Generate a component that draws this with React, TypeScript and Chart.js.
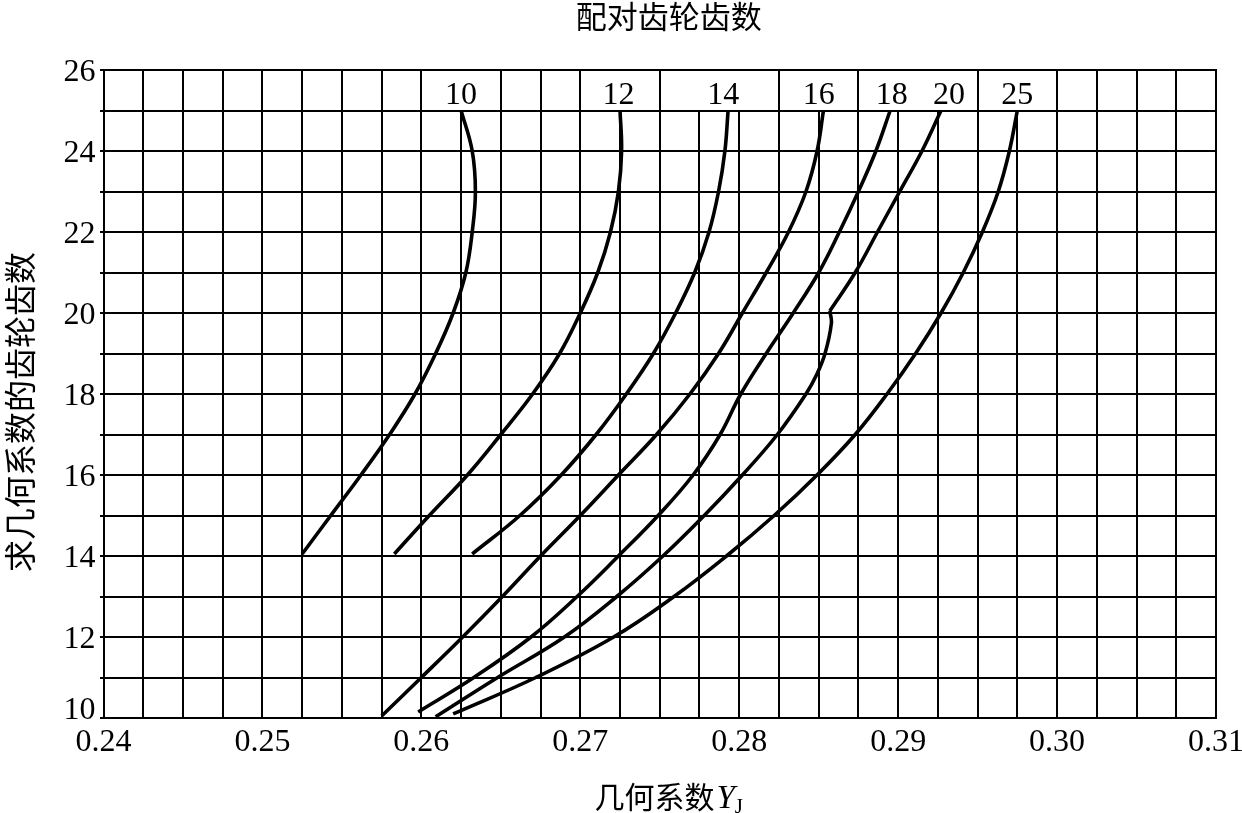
import React, { useEffect, useRef } from "react";
import { Chart, registerables } from "chart.js";

Chart.register(...registerables);

// ---- axes ----
const X_MIN = 0.24;
const X_MAX = 0.31;
const X_MINOR = 0.0025;
const X_TICKS = [0.24, 0.25, 0.26, 0.27, 0.28, 0.29, 0.3, 0.31];
const Y_MIN = 10;
const Y_MAX = 26;
const Y_TICKS = [10, 12, 14, 16, 18, 20, 22, 24, 26];
// minor vertical lines left open in the label row (between 25 and 26)
const TOP_ROW_OPEN = [0.2625, 0.2725, 0.2775, 0.28, 0.285, 0.29, 0.2925, 0.2975];

// ---- titles ----
const TITLE_TOP = "配对齿轮齿数";
const TITLE_Y = "求几何系数的齿轮齿数";
const TITLE_X_MAIN = "几何系数";
const TITLE_X_SYM = "Y";
const TITLE_X_SUB = "J";

// ---- curve labels (mating gear tooth count) and their x anchors ----
const CURVE_LABELS = ["10", "12", "14", "16", "18", "20", "25"];
const LABEL_X = [0.2625, 0.2724, 0.279, 0.285, 0.2896, 0.2932, 0.2975];

// ---- curves ----
const z10_y = [14.05, 15, 16, 17, 18, 19, 20, 21, 22, 23, 24, 25];
const z10_x = [0.2525, 0.2543, 0.2562, 0.258, 0.2596, 0.2609, 0.262, 0.2628, 0.2632, 0.2634, 0.2632, 0.2625];

const z12_y = [14.05, 15, 16, 17, 18, 19, 20, 21, 22, 23, 24, 25];
const z12_x = [0.2583, 0.2605, 0.2629, 0.265, 0.267, 0.2687, 0.27, 0.2711, 0.2719, 0.2724, 0.2726, 0.2725];

const z14_y = [14.05, 15, 16, 17, 18, 19, 20, 21, 22, 23, 24, 25];
const z14_x = [0.2632, 0.2662, 0.2688, 0.271, 0.2729, 0.2746, 0.276, 0.2772, 0.2781, 0.2787, 0.2791, 0.2793];

const z16_y = [10.05, 11, 12, 13, 14, 15, 16, 17, 18, 19, 20, 21, 22, 23, 24, 25];
const z16_x = [0.2575, 0.26, 0.2626, 0.2651, 0.2675, 0.27, 0.2724, 0.2748, 0.2769, 0.2787, 0.2802, 0.2817, 0.2831, 0.2842, 0.2849, 0.2853];

const z18_y = [10.15, 11, 12, 13, 14, 15, 16, 17, 18, 19, 20, 21, 22, 23, 24, 25];
const z18_x = [0.2598, 0.2633, 0.2669, 0.2698, 0.2724, 0.2749, 0.2771, 0.2788, 0.2801, 0.2817, 0.2834, 0.285, 0.2863, 0.2875, 0.2886, 0.2895];

// curve 20 has a sharp break at y = 20
const z20_low_y = [10.03, 11, 12, 13, 14, 15, 16, 17, 18, 18.5, 19, 19.75, 20.05];
const z20_low_x = [0.2609, 0.2648, 0.269, 0.2723, 0.2752, 0.2778, 0.2802, 0.2824, 0.2842, 0.2849, 0.2854, 0.2858, 0.2857];
const z20_up_y = [20.05, 21, 22, 23, 24, 25];
const z20_up_x = [0.2857, 0.2873, 0.2887, 0.2901, 0.2915, 0.2927];

const z25_y = [10.1, 11, 12, 13, 14, 15, 16, 17, 18, 19, 20, 21, 22, 23, 24, 25];
const z25_x = [0.262, 0.2672, 0.2721, 0.2759, 0.2792, 0.2822, 0.2849, 0.2873, 0.2893, 0.2911, 0.2927, 0.2941, 0.2953, 0.2963, 0.297, 0.2975];

const SERIES = [
  { xs: z10_x, ys: z10_y },
  { xs: z12_x, ys: z12_y },
  { xs: z14_x, ys: z14_y },
  { xs: z16_x, ys: z16_y },
  { xs: z18_x, ys: z18_y },
  { xs: z20_low_x, ys: z20_low_y },
  { xs: z20_up_x, ys: z20_up_y },
  { xs: z25_x, ys: z25_y },
];

const SERIF = "'Liberation Serif', 'Times New Roman', serif";
const CJK = "'Noto Sans CJK SC', sans-serif";

const gridPlugin = {
  id: "handGrid",
  beforeDatasetsDraw(chart: any) {
    const { ctx, chartArea, scales } = chart;
    const xs = scales.x;
    const ys = scales.y;
    ctx.save();
    ctx.strokeStyle = "#000";
    ctx.lineWidth = 2;
    ctx.lineCap = "butt";
    const n = Math.round((X_MAX - X_MIN) / X_MINOR);
    const yTop = Math.round(chartArea.top);
    const yBot = Math.round(chartArea.bottom);
    const yRow = Math.round(ys.getPixelForValue(25));
    for (let i = 0; i <= n; i++) {
      const v = X_MIN + i * X_MINOR;
      const px = Math.round(xs.getPixelForValue(v));
      const open = TOP_ROW_OPEN.some((o) => Math.abs(o - v) < 1e-7);
      ctx.beginPath();
      ctx.moveTo(px, open ? yRow : yTop - 1);
      ctx.lineTo(px, yBot + 1);
      ctx.stroke();
    }
    for (let v = Y_MIN; v <= Y_MAX; v++) {
      const py = Math.round(ys.getPixelForValue(v));
      ctx.beginPath();
      ctx.moveTo(Math.round(chartArea.left) - 4, py);
      ctx.lineTo(Math.round(chartArea.right) + 1, py);
      ctx.stroke();
    }
    ctx.restore();
  },
  afterDatasetsDraw(chart: any) {
    const { ctx, scales, chartArea } = chart;
    ctx.save();
    ctx.fillStyle = "#000";
    ctx.font = `32px ${SERIF}`;
    ctx.textAlign = "center";
    ctx.textBaseline = "alphabetic";
    const base = scales.y.getPixelForValue(25) - 7;
    CURVE_LABELS.forEach((lab, i) => {
      ctx.fillText(lab, scales.x.getPixelForValue(LABEL_X[i]), base);
    });
    // x tick labels
    X_TICKS.forEach((v) => {
      ctx.fillText(v.toFixed(2), scales.x.getPixelForValue(v), chartArea.bottom + 33);
    });
    // y tick labels
    ctx.textAlign = "right";
    Y_TICKS.forEach((v) => {
      const py = scales.y.getPixelForValue(v);
      const b = v === Y_MIN ? py + 1 : py + 11;
      ctx.fillText(String(v), chartArea.left - 8, b);
    });
    ctx.restore();
  },
  afterDraw(chart: any) {
    const { ctx, chartArea } = chart;
    const cx = (chartArea.left + chartArea.right) / 2 + 9;
    ctx.save();
    ctx.fillStyle = "#000";
    ctx.textBaseline = "middle";
    // top title
    ctx.textAlign = "center";
    ctx.font = `31px ${CJK}`;
    ctx.fillText(TITLE_TOP, cx, 16);
    // y title
    ctx.save();
    ctx.translate(20, (chartArea.top + chartArea.bottom) / 2 + 18);
    ctx.rotate(-Math.PI / 2);
    ctx.font = `32px ${CJK}`;
    ctx.fillText(TITLE_Y, 0, 0);
    ctx.restore();
    // x title with italic symbol and subscript
    ctx.textAlign = "left";
    ctx.textBaseline = "alphabetic";
    ctx.font = `30px ${CJK}`;
    const w1 = ctx.measureText(TITLE_X_MAIN).width;
    ctx.font = `italic 33px ${SERIF}`;
    const w2 = ctx.measureText(TITLE_X_SYM).width;
    ctx.font = `21px ${SERIF}`;
    const w3 = ctx.measureText(TITLE_X_SUB).width;
    const total = w1 + 2 + w2 + w3;
    let x0 = cx - total / 2;
    const base = 808;
    ctx.font = `30px ${CJK}`;
    ctx.fillText(TITLE_X_MAIN, x0, base);
    x0 += w1 + 2;
    ctx.font = `italic 33px ${SERIF}`;
    ctx.fillText(TITLE_X_SYM, x0, base);
    x0 += w2;
    ctx.font = `21px ${SERIF}`;
    ctx.fillText(TITLE_X_SUB, x0, base + 5);
    ctx.restore();
  },
};

export default function App() {
  const ref = useRef<HTMLCanvasElement | null>(null);

  useEffect(() => {
    if (!ref.current) return;
    const datasets = SERIES.map((s, k) => ({
      label: "curve" + k,
      data: s.xs.map((x, i) => ({ x, y: s.ys[i] })),
      borderColor: "#000",
      backgroundColor: "#000",
      borderWidth: 3.6,
      borderCapStyle: "butt" as const,
      borderJoinStyle: "round" as const,
      pointRadius: 0,
      fill: false,
      tension: 0.4,
    }));
    const chart = new Chart(ref.current, {
      type: "line",
      data: { datasets },
      options: {
        animation: false,
        responsive: false,
        devicePixelRatio: 1,
        layout: { padding: { top: 70, right: 26, left: 0, bottom: 0 } },
        plugins: { legend: { display: false }, tooltip: { enabled: false } },
        scales: {
          x: {
            type: "linear",
            position: "bottom",
            min: X_MIN,
            max: X_MAX,
            grid: { display: false, drawTicks: false },
            border: { display: false },
            ticks: { display: false },
            afterFit: (s: any) => {
              s.height = 95;
              s.paddingLeft = 0;
              s.paddingRight = 0;
            },
          },
          y: {
            type: "linear",
            position: "left",
            min: Y_MIN,
            max: Y_MAX,
            grid: { display: false, drawTicks: false },
            border: { display: false },
            ticks: { display: false },
            afterFit: (s: any) => {
              s.width = 103.5;
              s.paddingTop = 0;
              s.paddingBottom = 0;
            },
          },
        },
      },
      plugins: [gridPlugin],
    });
    return () => chart.destroy();
  }, []);

  return (
    <div style={{ position: "absolute", left: 0, top: 0, width: 1242, height: 813, background: "#fff" }}>
      <canvas ref={ref} width={1242} height={813} style={{ display: "block" }} />
    </div>
  );
}
